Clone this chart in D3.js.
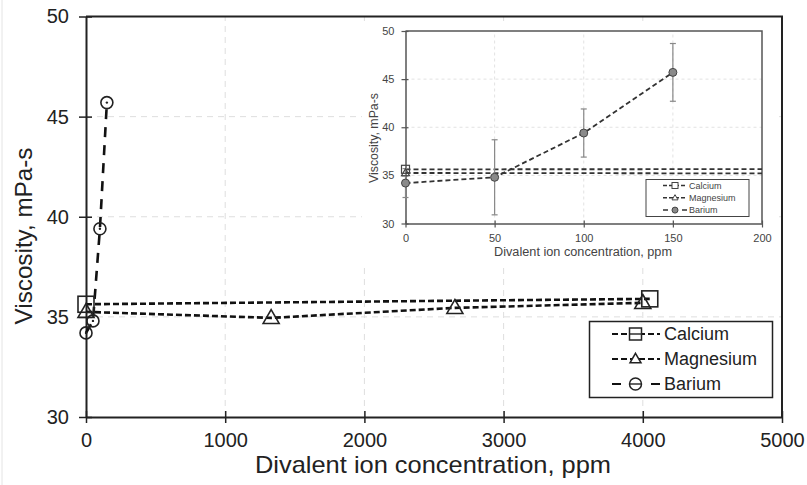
<!DOCTYPE html>
<html>
<head>
<meta charset="utf-8">
<script src="https://cdn.jsdelivr.net/npm/d3@7"></script>
<style>
  body { margin: 0; background: #fff; }
  svg { display: block; font-family: "Liberation Sans", Arial, sans-serif; }
</style>
</head>
<body>
<div id="chart"></div>
<script>
// data
const seriesNames = ["Calcium", "Magnesium", "Barium"];
const calciumX = [0, 4050];
const calciumY = [35.63, 35.9];
const magnesiumX = [0, 1330, 2650, 4000];
const magnesiumY = [35.25, 34.95, 35.45, 35.7];
const bariumX = [0, 50, 100, 150];
const bariumY = [34.2, 34.8, 39.4, 45.7];
const bariumErr = [1.5, 3.9, 2.5, 3.0];
const xTicks = [0, 1000, 2000, 3000, 4000, 5000];
const yTicks = [30, 35, 40, 45, 50];
const insetXTicks = [0, 50, 100, 150, 200];

(function() {
    const width = 807, height = 485;
    const svg = d3.select("#chart").append("svg")
        .attr("width", width)
        .attr("height", height);

    const zip = (xs, ys) => xs.map((v, i) => ({x: v, y: ys[i], e: bariumErr[i]}));
    const series = [
        {name: seriesNames[0], data: zip(calciumX, calciumY), shape: "square", dash: "6,3"},
        {name: seriesNames[1], data: zip(magnesiumX, magnesiumY), shape: "triangle", dash: "6,3"},
        {name: seriesNames[2], data: zip(bariumX, bariumY), shape: "circle", dash: "10,8"}
    ];

    // faint left edge of the original figure
    svg.append("line").attr("x1", 2).attr("x2", 2).attr("y1", 0).attr("y2", height)
        .attr("stroke", "#e4e4e4");

    // ---------- main chart ----------
    const x = d3.scaleLinear().domain([0, 5000]).range([86, 782]);
    const y = d3.scaleLinear().domain([30, 50]).range([417, 16.5]);

    const grid = svg.append("g").attr("stroke", "#dedede").attr("stroke-dasharray", "6,5");
    grid.selectAll(".gx").data(xTicks.slice(1, -1)).enter().append("line")
        .attr("x1", d => x(d)).attr("x2", d => x(d))
        .attr("y1", y(30)).attr("y2", y(50));
    grid.selectAll(".gy").data(yTicks.slice(1, -1)).enter().append("line")
        .attr("x1", x(0)).attr("x2", x(5000))
        .attr("y1", d => y(d)).attr("y2", d => y(d));

    const xAxis = svg.append("g").attr("transform", `translate(0,${y(30)})`)
        .call(d3.axisBottom(x).tickValues(xTicks).tickFormat(d3.format("d")).tickSizeOuter(0).tickPadding(10));
    const yAxis = svg.append("g").attr("transform", `translate(${x(0)},0)`)
        .call(d3.axisLeft(y).tickValues(yTicks).tickSizeOuter(0).tickPadding(11));
    [xAxis, yAxis].forEach(a => {
        a.select(".domain").attr("stroke", "#222").attr("stroke-width", 2);
        a.selectAll("text").attr("font-size", 20).attr("fill", "#222")
            .attr("font-family", "Liberation Sans, Arial, sans-serif");
        a.selectAll(".tick line").attr("stroke", "#222").attr("stroke-width", 1.5);
    });
    xAxis.selectAll(".tick line").attr("y1", -6).attr("y2", 6);
    yAxis.selectAll(".tick line").attr("x1", -7).attr("x2", 6);

    // top and right frame
    svg.append("path")
        .attr("d", `M${x(0)},${y(50)}H${x(5000)}V${y(30)}`)
        .attr("fill", "none").attr("stroke", "#222").attr("stroke-width", 2);

    svg.append("text").attr("x", 433).attr("y", 473).attr("text-anchor", "middle")
        .attr("font-size", 24).attr("fill", "#222")
        .attr("textLength", 356).attr("lengthAdjust", "spacingAndGlyphs")
        .text("Divalent ion concentration, ppm");
    svg.append("text").attr("transform", "translate(32,236) rotate(-90)")
        .attr("text-anchor", "middle").attr("font-size", 24).attr("fill", "#222")
        .attr("textLength", 177).attr("lengthAdjust", "spacingAndGlyphs")
        .text("Viscosity, mPa-s");

    const line = d3.line().x(d => x(d.x)).y(d => y(d.y));
    svg.selectAll(".main-line").data(series).enter().append("path")
        .attr("class", "main-line")
        .attr("d", d => line(d.data))
        .attr("fill", "none").attr("stroke", "#111").attr("stroke-width", 2.6)
        .attr("stroke-dasharray", d => d.dash);

    function drawMarker(g, shape, cx, cy, s, fill, stroke, sw) {
        if (shape === "square") {
            g.append("rect").attr("x", cx - s / 2).attr("y", cy - s / 2)
                .attr("width", s).attr("height", s)
                .attr("fill", fill).attr("stroke", stroke).attr("stroke-width", sw);
        } else if (shape === "triangle") {
            const h = s * 0.87;
            g.append("path")
                .attr("d", `M${cx},${cy - h * 0.6}L${cx + s / 2},${cy + h * 0.4}L${cx - s / 2},${cy + h * 0.4}Z`)
                .attr("fill", fill).attr("stroke", stroke).attr("stroke-width", sw);
        } else {
            g.append("circle").attr("cx", cx).attr("cy", cy).attr("r", s / 2)
                .attr("fill", fill).attr("stroke", stroke).attr("stroke-width", sw);
        }
    }

    const markers = svg.append("g");
    series.forEach(s => {
        s.data.forEach(d => {
            const big = s.shape === "circle" ? 12 : 16;
            drawMarker(markers, s.shape, x(d.x), y(d.y), big, "none", "#222", 1.6);
            if (s.shape === "circle") {
                markers.append("circle").attr("cx", x(d.x)).attr("cy", y(d.y)).attr("r", 1.2).attr("fill", "#222");
            }
        });
    });

    // main legend
    const leg = svg.append("g");
    leg.append("rect").attr("x", 589.5).attr("y", 321.5).attr("width", 183).attr("height", 76)
        .attr("fill", "#fff").attr("stroke", "#222").attr("stroke-width", 1.5);
    series.forEach((s, i) => {
        const ly = 334 + i * 25;
        leg.append("line").attr("x1", 612).attr("x2", 660).attr("y1", ly).attr("y2", ly)
            .attr("stroke", "#111").attr("stroke-width", 2.2)
            .attr("stroke-dasharray", s.shape === "circle" ? "9,30" : "6,3");
        drawMarker(leg, s.shape, 635.5, ly, s.shape === "triangle" ? 11 : 12, "#fff", "#222", 1.5);
        if (s.shape !== "triangle") {
            leg.append("line").attr("x1", 630).attr("x2", 641).attr("y1", ly).attr("y2", ly)
                .attr("stroke", "#222").attr("stroke-width", 1.4);
        }
        leg.append("text").attr("x", 664).attr("y", ly).attr("dy", "0.35em")
            .attr("font-size", 18).attr("fill", "#222").text(s.name);
    });

    // ---------- inset ----------
    const ix = d3.scaleLinear().domain([0, 200]).range([405.5, 762]);
    const iy = d3.scaleLinear().domain([30, 50]).range([223.5, 31]);
    const inset = svg.append("g");
    inset.append("rect").attr("x", 362).attr("y", 21).attr("width", 416).attr("height", 242)
        .attr("fill", "#fff");

    const igrid = inset.append("g").attr("stroke", "#e2e2e2").attr("stroke-dasharray", "3,3");
    igrid.selectAll("line.gx").data(insetXTicks.slice(1, -1)).enter().append("line")
        .attr("x1", d => ix(d)).attr("x2", d => ix(d)).attr("y1", iy(30)).attr("y2", iy(50));
    igrid.selectAll("line.gy").data(yTicks.slice(1, -1)).enter().append("line")
        .attr("x1", ix(0)).attr("x2", ix(200)).attr("y1", d => iy(d)).attr("y2", d => iy(d));

    const ixAxis = inset.append("g").attr("transform", `translate(0,${iy(30)})`)
        .call(d3.axisBottom(ix).tickValues(insetXTicks).tickSizeOuter(0).tickPadding(5));
    const iyAxis = inset.append("g").attr("transform", `translate(${ix(0)},0)`)
        .call(d3.axisLeft(iy).tickValues(yTicks).tickSizeOuter(0).tickPadding(5));
    [ixAxis, iyAxis].forEach(a => {
        a.select(".domain").attr("stroke", "#555").attr("stroke-width", 1.5);
        a.selectAll("text").attr("font-size", 11).attr("fill", "#444")
            .attr("font-family", "Liberation Sans, Arial, sans-serif");
        a.selectAll(".tick line").attr("stroke", "#555").attr("stroke-width", 1.2);
    });
    ixAxis.selectAll(".tick line").attr("y1", -3).attr("y2", 4);
    iyAxis.selectAll(".tick line").attr("x1", -4).attr("x2", 3);
    inset.append("path")
        .attr("d", `M${ix(0)},${iy(50)}H${ix(200)}V${iy(30)}`)
        .attr("fill", "none").attr("stroke", "#555").attr("stroke-width", 1.5);

    inset.append("text").attr("x", 583).attr("y", 256).attr("text-anchor", "middle")
        .attr("font-size", 12.5).attr("fill", "#444")
        .attr("textLength", 178).attr("lengthAdjust", "spacingAndGlyphs")
        .text("Divalent ion concentration, ppm");
    inset.append("text").attr("transform", "translate(378,138) rotate(-90)")
        .attr("text-anchor", "middle").attr("font-size", 12.5).attr("fill", "#444")
        .attr("textLength", 90).attr("lengthAdjust", "spacingAndGlyphs")
        .text("Viscosity, mPa-s");

    svg.append("clipPath").attr("id", "inset-clip").append("rect")
        .attr("x", ix(0)).attr("y", iy(50)).attr("width", ix(200) - ix(0)).attr("height", iy(30) - iy(50));

    const iline = d3.line().x(d => ix(d.x)).y(d => iy(d.y));
    const iplot = inset.append("g").attr("clip-path", "url(#inset-clip)");
    iplot.selectAll(".inset-line").data(series).enter().append("path")
        .attr("d", d => iline(d.data))
        .attr("fill", "none").attr("stroke", "#333").attr("stroke-width", 1.8)
        .attr("stroke-dasharray", "5,3");

    // barium error bars
    const bars = inset.append("g").attr("stroke", "#888").attr("stroke-width", 1.2);
    series[2].data.forEach(d => {
        bars.append("line").attr("x1", ix(d.x)).attr("x2", ix(d.x))
            .attr("y1", iy(d.y - d.e)).attr("y2", iy(d.y + d.e));
        [d.y - d.e, d.y + d.e].forEach(v => {
            bars.append("line").attr("x1", ix(d.x) - 3).attr("x2", ix(d.x) + 3)
                .attr("y1", iy(v)).attr("y2", iy(v));
        });
    });

    series.forEach(s => {
        s.data.filter(d => d.x <= 200).forEach(d => {
            if (s.shape === "circle") {
                drawMarker(inset, "circle", ix(d.x), iy(d.y), 8, "#8a8a8a", "#444", 1);
            } else {
                drawMarker(inset, s.shape, ix(d.x), iy(d.y), 8, "none", "#444", 1.2);
            }
        });
    });

    // inset legend
    const ileg = inset.append("g");
    ileg.append("rect").attr("x", 646).attr("y", 179.5).attr("width", 103).attr("height", 37)
        .attr("fill", "#fff").attr("stroke", "#444").attr("stroke-width", 1);
    series.forEach((s, i) => {
        const ly = 185.5 + i * 12.3;
        ileg.append("line").attr("x1", 663).attr("x2", 687).attr("y1", ly).attr("y2", ly)
            .attr("stroke", "#333").attr("stroke-width", 1.5)
            .attr("stroke-dasharray", s.shape === "circle" ? "5,14" : "4,2");
        if (s.shape === "circle") {
            drawMarker(ileg, "circle", 675, ly, 6, "#8a8a8a", "#444", 1);
        } else {
            drawMarker(ileg, s.shape, 675, ly, 6, "#fff", "#444", 1);
        }
        ileg.append("text").attr("x", 689).attr("y", ly).attr("dy", "0.35em")
            .attr("font-size", 9).attr("fill", "#444").text(s.name);
    });
})();
</script>
</body>
</html>
